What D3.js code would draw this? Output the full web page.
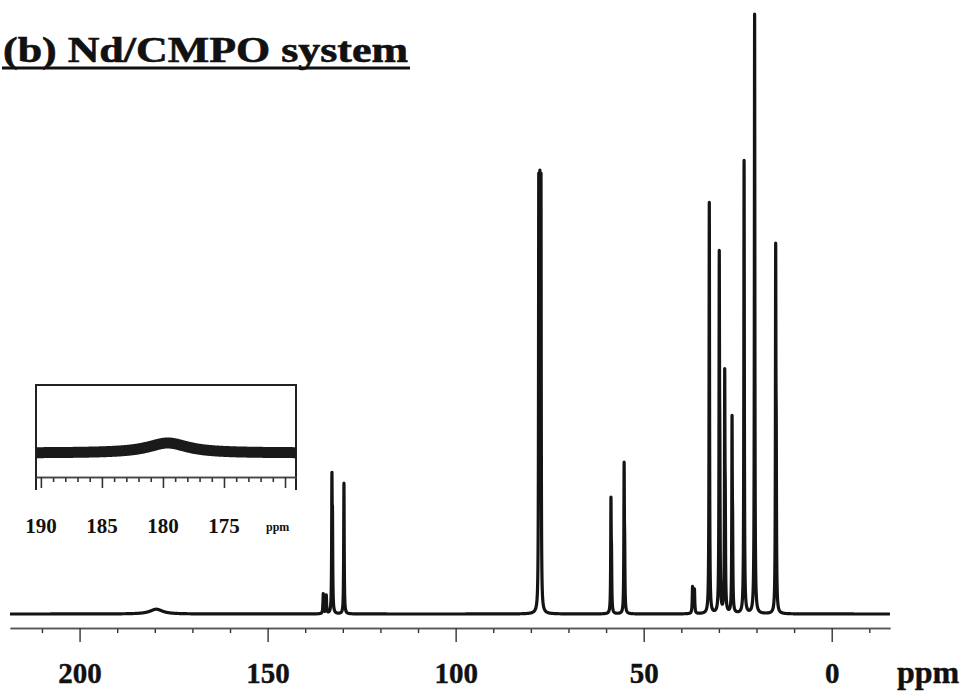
<!DOCTYPE html>
<html>
<head>
<meta charset="utf-8">
<script src="https://cdn.jsdelivr.net/npm/d3@7"></script>
<style>
  html, body { margin: 0; padding: 0; background: #fff; }
  svg { display: block; }
  text { font-family: "Liberation Serif", "Times New Roman", serif; font-weight: bold; fill: #111; }
</style>
</head>
<body>
<script>
// ---- data ----
const titleText = "(b) Nd/CMPO system";
// 13C peaks: position (ppm), observed peak height (arbitrary units, tallest = 100), half-width (ppm)
const peakPpm    = [179.6, 135.2, 134.4, 132.9, 132.75, 129.7, 77.9, 77.6, 77.3, 58.7, 58.55, 55.2, 55.05, 37.0, 36.5, 32.8, 32.55, 29.9, 29.75, 28.45, 28.3, 26.5, 26.35, 23.3, 20.5, 14.9, 14.75];
const peakHeight = [0.8,   3.4,   3.2,   23.6,  17.8,   21.8,  73.5, 74.0, 73.5, 19.5,  11.5,  25.3, 13.3,  4.6,  4.2,  4.0,  68.6,  60.6,  31.8,  40.9,  21.8, 33.1,  17.3,  75.6, 100.0, 61.8, 33.5];
const peakWidth  = [2.0,   0.1,   0.1,   0.08,  0.08,   0.08,  0.07, 0.07, 0.07, 0.08,  0.08,  0.08, 0.08,  0.1,  0.1,  0.1,  0.08,  0.08,  0.08,  0.08,  0.08, 0.08,  0.08,  0.08, 0.08,  0.08, 0.08];
// main axis
const ppmDomain   = [218.5, -15.5];
const majorTicks  = [200, 150, 100, 50, 0];
const minorTicks  = [210, 190, 180, 170, 160, 140, 130, 120, 110, 90, 80, 70, 60, 40, 30, 20, 10, -10];
const axisUnit    = "ppm";
// inset (carbonyl region)
const insetDomain = [190.4, 169.1];
const insetMajor  = [190, 185, 180, 175, 170];
const insetMinor  = d3.range(170, 191, 1).filter(v => v % 5 !== 0);
const insetLabels = [190, 185, 180, 175];

// ---- spectrum: sum of Lorentzians whose amplitudes reproduce the observed peak heights ----
const amp = peakHeight.slice();
function intensity(p) {
  let s = 0;
  for (let i = 0; i < peakPpm.length; i++) {
    const g = peakWidth[i], d = p - peakPpm[i];
    s += amp[i] * g * g / (g * g + d * d);
  }
  return s;
}
for (let it = 0; it < 60; it++) {
  const cur = peakPpm.map(p => intensity(p));
  for (let i = 0; i < amp.length; i++) amp[i] = Math.max(0, amp[i] + 0.8 * (peakHeight[i] - cur[i]));
}
const grid = d3.range(ppmDomain[0], ppmDomain[1], -0.01);
const spectrum = grid.map(p => [p, intensity(p)]);
const insetGrid = d3.range(insetDomain[0], insetDomain[1], -0.05);
const insetSpectrum = insetGrid.map(p => [p, intensity(p)]);

// ---- drawing ----
const W = 968, H = 693;
const svg = d3.select("body").append("svg").attr("width", W).attr("height", H);
svg.append("rect").attr("width", W).attr("height", H).attr("fill", "#fff");

const x = d3.scaleLinear().domain(ppmDomain).range([10, 890]);
const y = d3.scaleLinear().domain([0, 100]).range([614, 14]);

// title
svg.append("text")
  .attr("x", 3).attr("y", 62)
  .attr("font-size", 35)
  .attr("stroke", "#111").attr("stroke-width", 0.6)
  .attr("textLength", 405).attr("lengthAdjust", "spacingAndGlyphs")
  .text(titleText);
svg.append("line").attr("x1", 2).attr("x2", 410).attr("y1", 68).attr("y2", 68)
  .attr("stroke", "#111").attr("stroke-width", 2.8);

// spectrum
const line = d3.line().x(d => x(d[0])).y(d => y(d[1]));
svg.append("path").datum(spectrum)
  .attr("d", line).attr("fill", "none")
  .attr("stroke", "#141414").attr("stroke-width", 3.2).attr("stroke-linejoin", "round");

// main axis
const axisY = 628;
const gMinor = svg.append("g").attr("transform", `translate(0,${axisY})`)
  .call(d3.axisBottom(x).tickValues(minorTicks).tickSize(5).tickSizeOuter(0).tickFormat(""));
const gMajor = svg.append("g").attr("transform", `translate(0,${axisY})`)
  .call(d3.axisBottom(x).tickValues(majorTicks).tickSize(14).tickSizeOuter(0).tickPadding(20).tickFormat(d3.format("d")));
[gMinor, gMajor].forEach(g => {
  g.select(".domain").attr("stroke", "#555").attr("stroke-width", 1.6);
  g.selectAll(".tick line").attr("stroke", "#333").attr("stroke-width", 1.4);
});
gMajor.selectAll(".tick text")
  .attr("font-size", 29).attr("fill", "#111")
  .attr("stroke", "#111").attr("stroke-width", 0.4)
  .style("font-family", '"Liberation Serif", "Times New Roman", serif').style("font-weight", "bold");
svg.append("text").attr("x", 897).attr("y", 683).attr("font-size", 32)
  .attr("stroke", "#111").attr("stroke-width", 0.4).text(axisUnit);

// inset
const ix = d3.scaleLinear().domain(insetDomain).range([36, 296]);
const iy = d3.scaleLinear().domain([0, 0.8]).range([453, 443]);
const inset = svg.append("g");
inset.append("path")
  .attr("d", `M36,490 V385 H296 V490`)
  .attr("fill", "none").attr("stroke", "#222").attr("stroke-width", 2);
inset.append("path").datum(insetSpectrum)
  .attr("d", d3.line().x(d => ix(d[0])).y(d => iy(d[1])))
  .attr("fill", "none").attr("stroke", "#1a1a1a").attr("stroke-width", 11);
const iAxisY = 477;
const giMinor = inset.append("g").attr("transform", `translate(0,${iAxisY})`)
  .call(d3.axisBottom(ix).tickValues(insetMinor).tickSize(5).tickSizeOuter(0).tickFormat(""));
const giMajor = inset.append("g").attr("transform", `translate(0,${iAxisY})`)
  .call(d3.axisBottom(ix).tickValues(insetMajor).tickSize(11).tickSizeOuter(0).tickFormat(""));
[giMinor, giMajor].forEach(g => {
  g.select(".domain").attr("stroke", "#444").attr("stroke-width", 1.4);
  g.selectAll(".tick line").attr("stroke", "#333").attr("stroke-width", 1.6);
});
inset.selectAll(".ilab").data(insetLabels).enter().append("text")
  .attr("class", "ilab")
  .attr("x", d => ix(d)).attr("y", 533)
  .attr("text-anchor", "middle").attr("font-size", 21)
  .text(d => d);
inset.append("text").attr("x", 266).attr("y", 531).attr("font-size", 12).text(axisUnit);
</script>
</body>
</html>
